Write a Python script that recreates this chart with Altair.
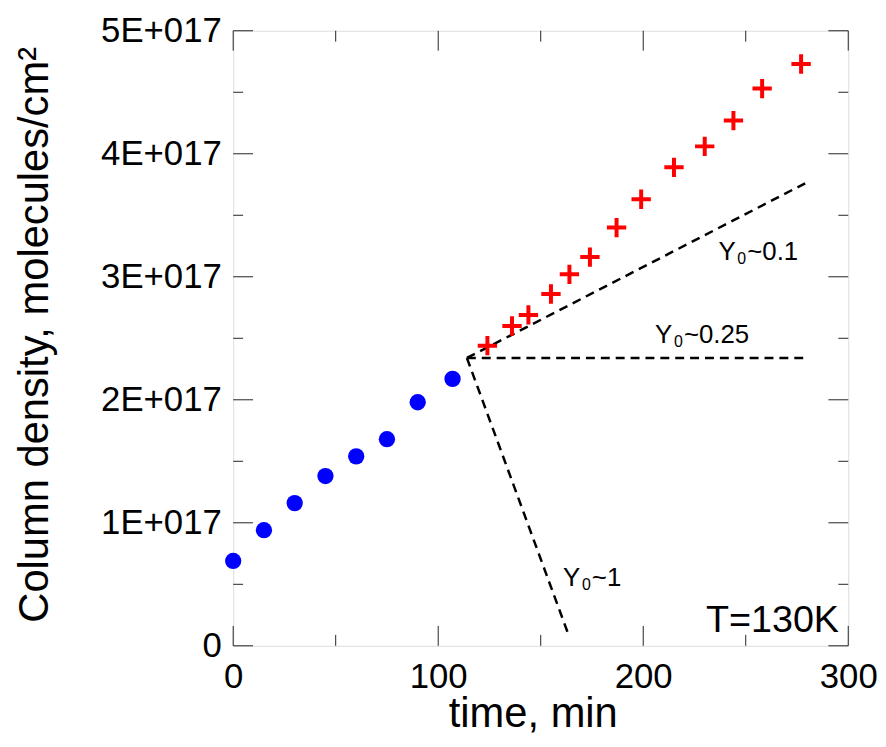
import altair as alt
import pandas as pd

# ---------------- data ----------------
blue_t = [0, 15, 30, 45, 60, 75, 90, 107]
blue_n = [0.69e17, 0.94e17, 1.16e17, 1.38e17, 1.54e17, 1.68e17, 1.98e17, 2.17e17]

red_t = [124, 136, 144, 155, 164, 174, 187, 199, 215, 230, 244, 258, 277]
red_n = [2.44e17, 2.60e17, 2.69e17, 2.86e17, 3.02e17, 3.16e17, 3.40e17,
         3.63e17, 3.89e17, 4.06e17, 4.27e17, 4.53e17, 4.73e17]

line_group = ["0.1", "0.1", "0.25", "0.25", "1", "1"]
line_t = [114, 279, 114, 280, 114, 164]
line_n = [2.34e17, 3.76e17, 2.34e17, 2.34e17, 2.34e17, 0.07e17]

label_main = ["Y", "Y", "Y"]
label_sub = ["0", "0", "0"]
label_rest = ["~0.1", "~0.25", "~1"]
label_t = [236.7, 205.8, 160.9]
label_n = [3.14e17, 2.46e17, 0.484e17]

temp_text = ["T=130K"]
temp_t = [295.5]
temp_n = [0.113e17]

x_major = [0, 100, 200, 300]
x_minor = [50, 150, 250]
y_major = [0, 1e17, 2e17, 3e17, 4e17, 5e17]
y_minor = [0.5e17, 1.5e17, 2.5e17, 3.5e17, 4.5e17]

# ---------------- chart ----------------
W, H = 620, 620
FONT = "Liberation Sans"
xs = alt.Scale(domain=[0, 300], nice=False, zero=False)
ys = alt.Scale(domain=[0, 5e17], nice=False, zero=False)

x_axis = alt.Axis(values=x_major, title="time, min", labelFontSize=35, labelPadding=14,
                  ticks=False, tickSize=0, domain=False, grid=False, format="d",
                  labelFlush=False, labelOverlap=False,
                  titleFontSize=42, titleFontWeight="normal", titleBaseline="alphabetic",
                  titleY=81, titleX=302, labelFont=FONT, titleFont=FONT,
                  labelColor="black", titleColor="black")
y_axis = alt.Axis(values=y_major, title="Column density, molecules/cm\u00b2",
                  labelFontSize=35, labelPadding=12, ticks=False, tickSize=0,
                  domain=False, grid=False, labelFlush=False, labelOverlap=False,
                  labelExpr="datum.value == 0 ? '0' : format(datum.value / 1e17, 'd') + 'E+017'",
                  titleFontSize=42, titleFontWeight="normal", titleBaseline="alphabetic",
                  titleAngle=-90, titleX=-187, titleY=306, titleAlign="center",
                  labelFont=FONT, titleFont=FONT, labelColor="black", titleColor="black")

blue_df = pd.DataFrame({"t": blue_t, "n": blue_n})
red_df = pd.DataFrame({"t": red_t, "n": red_n})
line_df = pd.DataFrame({"t": line_t, "n": line_n, "g": line_group})
lab_df = pd.DataFrame({"t": label_t, "n": label_n, "main": label_main,
                       "sub": label_sub, "rest": label_rest})
temp_df = pd.DataFrame({"t": temp_t, "n": temp_n, "label": temp_text})


def X():
    return alt.X("t:Q", scale=xs, axis=x_axis)


def Y():
    return alt.Y("n:Q", scale=ys, axis=y_axis)


blue = alt.Chart(blue_df).mark_point(filled=True, color="#0000ff", size=270,
                                     shape="circle", opacity=1).encode(x=X(), y=Y())

red = alt.Chart(red_df).mark_point(shape="M-1,0L1,0M0,-1L0,1", filled=False,
                                   color="#ff0000", strokeWidth=4, size=380,
                                   opacity=1).encode(x=X(), y=Y())

lines = alt.Chart(line_df).mark_line(color="black", strokeWidth=2.5,
                                     strokeDash=[9, 6]).encode(
    x=X(), y=Y(), detail="g:N")

lab_base = alt.Chart(lab_df)
lab_main = lab_base.mark_text(font=FONT, fontSize=26, align="left",
                              baseline="alphabetic", color="black").encode(
    x=X(), y=Y(), text="main:N")
lab_sub = lab_base.mark_text(font=FONT, fontSize=16, align="left", dx=19, dy=4,
                             baseline="alphabetic", color="black").encode(
    x=X(), y=Y(), text="sub:N")
lab_rest = lab_base.mark_text(font=FONT, fontSize=26, align="left", dx=29,
                              baseline="alphabetic", color="black").encode(
    x=X(), y=Y(), text="rest:N")

temp = alt.Chart(temp_df).mark_text(font=FONT, fontSize=38, align="right",
                                    baseline="alphabetic", color="black").encode(
    x=X(), y=Y(), text="label:N")


def xticks(vals, length, top):
    df = pd.DataFrame({"t": vals})
    y0, y1 = (0, length) if top else (H, H - length)
    return alt.Chart(df).mark_rule(color="#222", strokeWidth=1).encode(
        x=X(), y=alt.value(y0), y2=alt.value(y1))


def yticks(vals, length, right):
    df = pd.DataFrame({"n": vals})
    x0, x1 = (W, W - length) if right else (0, length)
    return alt.Chart(df).mark_rule(color="#222", strokeWidth=1).encode(
        y=Y(), x=alt.value(x0), x2=alt.value(x1))


ticks = [
    xticks(x_major, 20, False), xticks(x_major, 20, True),
    xticks(x_minor, 11, False), xticks(x_minor, 11, True),
    yticks(y_major, 20, False), yticks(y_major, 20, True),
    yticks(y_minor, 10, False), yticks(y_minor, 10, True),
]

chart = alt.layer(blue, *ticks, lines, red, lab_main, lab_sub, lab_rest, temp).properties(
    width=W, height=H,
    padding={"left": 227, "top": 20, "right": 30, "bottom": 91},
    autosize=alt.AutoSizeParams(type="none"),
).configure_view(stroke="black", strokeWidth=1.5).configure(background="white")

chart.save("out.html", embed_options={"renderer": "svg", "actions": False})
